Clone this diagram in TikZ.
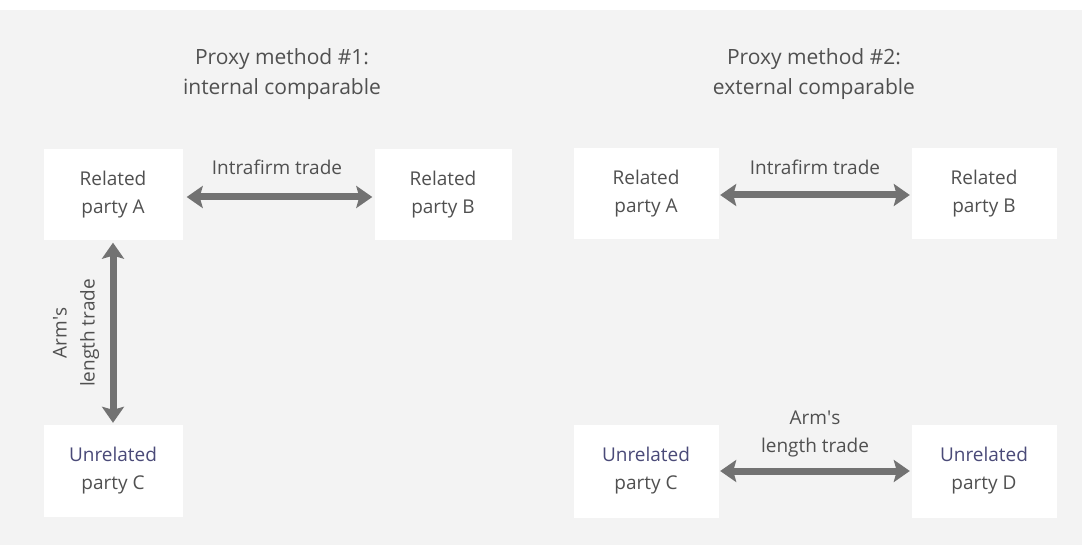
\documentclass[tikz,border=0pt]{standalone}
\usepackage{fontspec}
\setmainfont{Open Sans}
\usetikzlibrary{arrows.meta}
\definecolor{bg}{HTML}{F3F3F3}
\definecolor{txt}{HTML}{505050}
\definecolor{unrel}{HTML}{4A4A78}
\definecolor{arr}{HTML}{727272}
\tikzset{
  party/.style={fill=white, draw=none, minimum width=140pt, minimum height=91pt, inner sep=0pt, align=center, text=txt, font=\fontsize{19}{28}\selectfont},
  lbl/.style={align=center, text=txt, font=\fontsize{19}{28}\selectfont, inner sep=0pt},
  ttl/.style={align=center, text=txt, font=\fontsize{21}{30}\selectfont, inner sep=0pt},
  trade/.style={draw=arr, line width=7pt, {Stealth[length=16pt,width=22pt,inset=3pt]}-{Stealth[length=16pt,width=22pt,inset=3pt]}}
}
\begin{document}
\begin{tikzpicture}[x=1pt,y=-1pt]
\useasboundingbox (0,0) rectangle (1082,545);
\fill[white] (0,0) rectangle (1082,545);
\fill[bg] (0,10) rectangle (1082,545);

\node[ttl] (t1) at (282,74) {Proxy method \#1:\\internal comparable};
\node[ttl] (t2) at (814,74) {Proxy method \#2:\\external comparable};

\node[party, minimum width=139pt] (A1) at (113,195) {Related\\party A};
\node[party, minimum width=137pt] (B1) at (443,195) {Related\\party B};
\node[party, minimum width=139pt, minimum height=92pt] (C1) at (113,471) {\textcolor{unrel}{Unrelated}\\party C};

\node[party, minimum width=145pt] (A2) at (646,194) {Related\\party A};
\node[party, minimum width=145pt] (B2) at (984,194) {Related\\party B};
\node[party, minimum width=145pt, minimum height=93pt] (C2) at (646,471) {\textcolor{unrel}{Unrelated}\\party C};
\node[party, minimum width=145pt, minimum height=93pt] (D2) at (984,471) {\textcolor{unrel}{Unrelated}\\party D};

\draw[trade, shorten <=4pt, shorten >=2pt] ([yshift=-2pt]A1.east) -- ([yshift=-2pt]B1.west);
\draw[trade, shorten <=2pt, shorten >=2pt] (A1.south) -- (C1.north);
\draw[trade, shorten <=1.5pt, shorten >=1.5pt] ([yshift=-1pt]A2.east) -- ([yshift=-1pt]B2.west);
\draw[trade, shorten <=1.5pt, shorten >=1.5pt] (C2.east) -- (D2.west);

\node[lbl] (l1) at (277,167) {Intrafirm trade};
\node[lbl] (l2) at (815,167) {Intrafirm trade};
\node[lbl, rotate=90] (l3) at (76,333) {Arm\textquotesingle s\\length trade};
\node[lbl] (l4) at (815,434) {Arm\textquotesingle s\\length trade};
\end{tikzpicture}
\end{document}
